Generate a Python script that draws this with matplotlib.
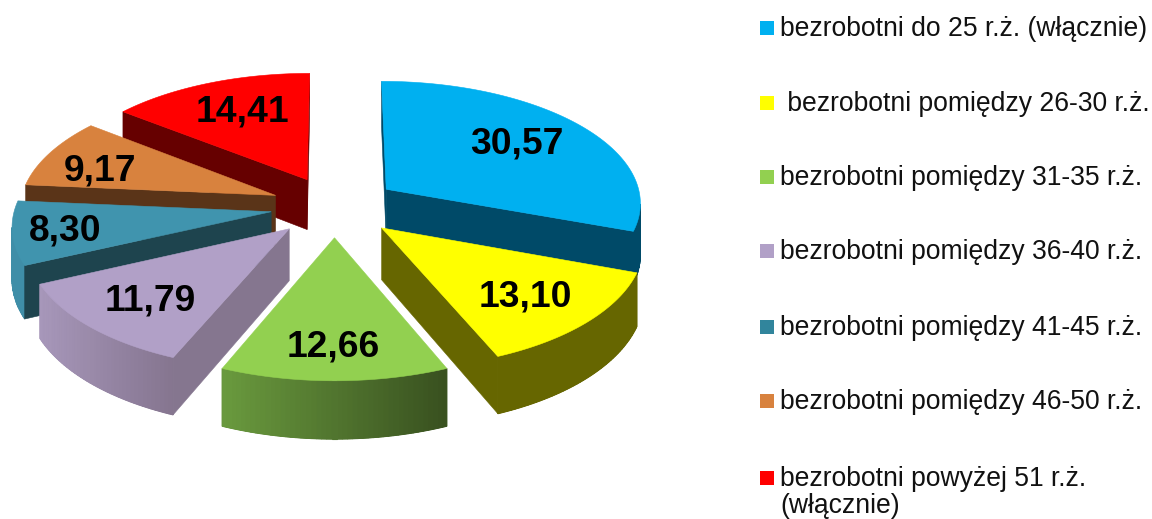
import numpy as np
import matplotlib
matplotlib.use("Agg")
import matplotlib.pyplot as plt
from matplotlib.patches import Polygon, Rectangle
from matplotlib.colors import to_rgb

# ---- data ----
labels = ["bezrobotni do 25 r.ż. (włącznie)", " bezrobotni pomiędzy 26-30 r.ż.",
          "bezrobotni pomiędzy 31-35 r.ż.", "bezrobotni pomiędzy 36-40 r.ż.",
          "bezrobotni pomiędzy 41-45 r.ż.", "bezrobotni pomiędzy 46-50 r.ż.",
          "bezrobotni powyżej 51 r.ż.\n(włącznie)"]
values = [30.57, 13.10, 12.66, 11.79, 8.30, 9.17, 14.41]
value_texts = ["30,57", "13,10", "12,66", "11,79", "8,30", "9,17", "14,41"]

# ---- style ----
top_colors = ["#00B0F0", "#FFFF00", "#92D050", "#B1A0C7", "#4094AE", "#D8823E", "#FF0000"]
cut_colors = ["#004A68", "#666600", "#4E7A2C", "#85768F", "#1E444E", "#5A3418", "#660000"]
rim_start = ["#004A68", "#666600", "#38501F", "#85758F", "#3F8EA8", "#8A5326", "#660000"]
rim_end = ["#004A68", "#666600", "#6A9A3E", "#A797BA", "#3F8EA8", "#8A5326", "#660000"]
legend_colors = ["#00B0F0", "#FFFF00", "#92D050", "#B1A0C7", "#31859C", "#D8823E", "#FF0000"]
draw_order = [6, 0, 5, 4, 1, 3, 2]

# ---- projection layout (pixels) ----
CX, CY, RX, RY, K, EXPLODE, DEPTH = 334.5, 206.5, 256, 122, 0.10, 0.25, 51
label_xy = [(517, 144), (525, 296.5), (333, 346.5), (150, 301.5), (65, 230.5), (100, 170.5), (242, 112)]
legend_y = [28, 103, 177, 251, 327, 401, 478]


def project(X, Y):
    s = 1 / (1 + K * Y)
    return CX + RX * X * s, CY - RY * Y * s, DEPTH * s


fig = plt.figure(figsize=(11.52, 5.19), dpi=100)
ax = fig.add_axes([0, 0, 1, 1])
ax.set_xlim(0, 1152)
ax.set_ylim(519, 0)
ax.axis("off")

total = sum(values)
edges = 90 - np.concatenate([[0], np.cumsum(values)]) / total * 360


def quad(p, q, color, z, lw=0.0):
    ax.add_patch(Polygon([p[:2], q[:2], (q[0], q[1] + q[2]), (p[0], p[1] + p[2])],
                         closed=True, facecolor=color, edgecolor=color, lw=lw,
                         joinstyle="bevel", zorder=z))


for z, i in enumerate(draw_order):
    a0, a1 = edges[i], edges[i + 1]
    mid = np.radians((a0 + a1) / 2)
    ox, oy = EXPLODE * np.cos(mid), EXPLODE * np.sin(mid)
    th = np.radians(np.linspace(a0, a1, max(int(a0 - a1), 2) + 1))
    tip = project(ox, oy)
    rim = [project(ox + np.cos(t), oy + np.sin(t)) for t in th]
    base = z * 10 + 1
    x0, x1 = min(p[0] for p in rim), max(p[0] for p in rim)
    c0, c1 = np.array(to_rgb(rim_start[i])), np.array(to_rgb(rim_end[i]))

    # outer rim: a solid underlay removes seams, then gradient pieces on top
    segs = []
    for p, q in zip(rim[:-1], rim[1:]):
        f = ((p[0] + q[0]) / 2 - x0) / (x1 - x0)
        if q[0] < p[0]:
            segs.append((p, q, tuple(c1 + (c0 - c1) * f)))
    if segs:
        upper = [s[0][:2] for s in segs] + [segs[-1][1][:2]]
        lower = [(s[0][0], s[0][1] + s[0][2]) for s in segs] + \
                [(segs[-1][1][0], segs[-1][1][1] + segs[-1][1][2])]
        mean_col = tuple(np.mean([s[2] for s in segs], axis=0))
        ax.add_patch(Polygon(upper + lower[::-1], closed=True, facecolor=mean_col,
                             edgecolor=mean_col, lw=0.4, joinstyle="bevel", zorder=base))
        for p, q, col in segs:
            quad(p, q, col, base, lw=0.8)
    # cut faces; an edge running right-to-left on the clockwise outline is a lower one
    for p, q in ((tip, rim[0]), (rim[-1], tip)):
        if q[0] < p[0]:
            quad(p, q, cut_colors[i], base + 1, lw=0.4)
    ax.add_patch(Polygon([tip[:2]] + [r[:2] for r in rim], closed=True,
                         facecolor=top_colors[i], edgecolor=top_colors[i], lw=0.4,
                         joinstyle="bevel", zorder=base + 2))

for (x, y), t in zip(label_xy, value_texts):
    ax.text(x, y, t, family="Liberation Sans", weight="bold", fontsize=26.8,
            ha="center", va="center", color="black", zorder=200)

for lab, col, y in zip(labels, legend_colors, legend_y):
    ax.add_patch(Rectangle((760, y - 7), 14, 14, facecolor=col, edgecolor="none"))
    ax.text(780, y - 12, lab, family="Liberation Sans", fontsize=19.1,
            ha="left", va="top", color="#111111", linespacing=1.05)

fig.savefig("out.png", dpi=100)
